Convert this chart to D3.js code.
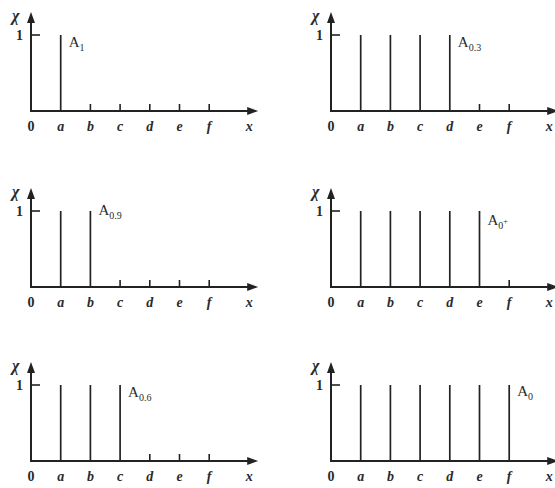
<!DOCTYPE html>
<html>
<head>
<meta charset="utf-8">
<script src="https://cdn.jsdelivr.net/npm/d3@7"></script>
<style>
  html, body { margin: 0; padding: 0; background: #fff; }
  svg { display: block; }
  text { font-family: "Liberation Serif", "DejaVu Serif", serif; fill: #2a2a2a; font-weight: bold; }
</style>
</head>
<body>
<svg id="chart" width="555" height="488"></svg>
<script>
// Universe points on the x axis
const categories = ["a", "b", "c", "d", "e", "f"];
// Alpha-cut levels shown in each panel (column-major: left column, then right column)
const cutLabels = ["1", "0.9", "0.6", "0.3", "0+", "0"];
// Number of leading points whose characteristic value is 1 in each cut
const cutCounts = [1, 2, 3, 4, 5, 6];
// Characteristic function values per panel
const cutValues = cutCounts.map(n => categories.map((c, i) => (i < n ? 1 : 0)));
const yTicks = [1];

const svg = d3.select("#chart");
const ink = "#222";

// panel geometry
const colX = [31, 331];           // x of the vertical axis per column
const rowY = [111, 287, 461];     // y of the horizontal axis per row
const step = 29.7;
const barH = 76;
const labelDy = [12, 4, 12, 12, 14, 11];

cutLabels.forEach((lab, p) => {
  const col = Math.floor(p / 3), row = p % 3;
  const ox = colX[col], oy = rowY[row];
  const x = d3.scaleLinear().domain([0, categories.length]).range([ox, ox + step * categories.length]);
  const y = d3.scaleLinear().domain([0, 1]).range([oy, oy - barH]);
  const g = svg.append("g");
  const vals = cutValues[p];

  // axes with arrowheads
  const xEnd = x(7.65), yTop = y(1) - 23;
  g.append("line").attr("x1", ox).attr("x2", xEnd - 8).attr("y1", oy).attr("y2", oy)
    .attr("stroke", ink).attr("stroke-width", 2);
  g.append("line").attr("x1", ox).attr("x2", ox).attr("y1", oy + 1).attr("y2", yTop + 8)
    .attr("stroke", ink).attr("stroke-width", 2);
  g.append("path").attr("d", `M${xEnd},${oy} L${xEnd - 11},${oy - 4} L${xEnd - 11},${oy + 4} Z`).attr("fill", ink);
  g.append("path").attr("d", `M${ox},${yTop} L${ox - 4},${yTop + 11} L${ox + 4},${yTop + 11} Z`).attr("fill", ink);

  // y tick at 1
  yTicks.forEach(t => {
    g.append("line").attr("x1", ox).attr("x2", ox + 9).attr("y1", y(t)).attr("y2", y(t))
      .attr("stroke", ink).attr("stroke-width", 1.6);
    g.append("text").attr("x", ox - 8).attr("y", y(t) + 5).attr("text-anchor", "end")
      .attr("font-size", 14).text(t);
  });
  g.append("text").attr("x", ox - 19).attr("y", yTop + 9).attr("font-size", 16)
    .attr("font-style", "italic").text("χ");

  // spikes and small ticks
  categories.forEach((c, i) => {
    const xi = x(i + 1);
    const top = vals[i] === 1 ? y(1) : oy - 7;
    g.append("line").attr("x1", xi).attr("x2", xi).attr("y1", oy).attr("y2", top)
      .attr("stroke", ink).attr("stroke-width", vals[i] === 1 ? 1.7 : 1.6);
    g.append("text").attr("x", xi).attr("y", oy + 20).attr("text-anchor", "middle")
      .attr("font-size", 14).attr("font-style", "italic").text(c);
  });
  g.append("text").attr("x", ox).attr("y", oy + 20).attr("text-anchor", "middle")
    .attr("font-size", 14).text("0");
  g.append("text").attr("x", x(7.35)).attr("y", oy + 20).attr("text-anchor", "middle")
    .attr("font-size", 14).attr("font-style", "italic").text("x");

  // cut label next to the last spike
  const last = d3.max(vals.map((v, i) => (v === 1 ? i : -1)));
  const t = g.append("text").attr("x", x(last + 1) + 8).attr("y", y(1) + labelDy[p]).attr("font-size", 15)
    .style("font-weight", "normal");
  t.append("tspan").text("A");
  if (lab === "0+") {
    t.append("tspan").attr("font-size", 10).attr("dy", 4).text("0");
    t.append("tspan").attr("font-size", 8).attr("dy", -5).text("+");
  } else {
    t.append("tspan").attr("font-size", 10).attr("dy", 4).text(lab);
  }
});
</script>
</body>
</html>
